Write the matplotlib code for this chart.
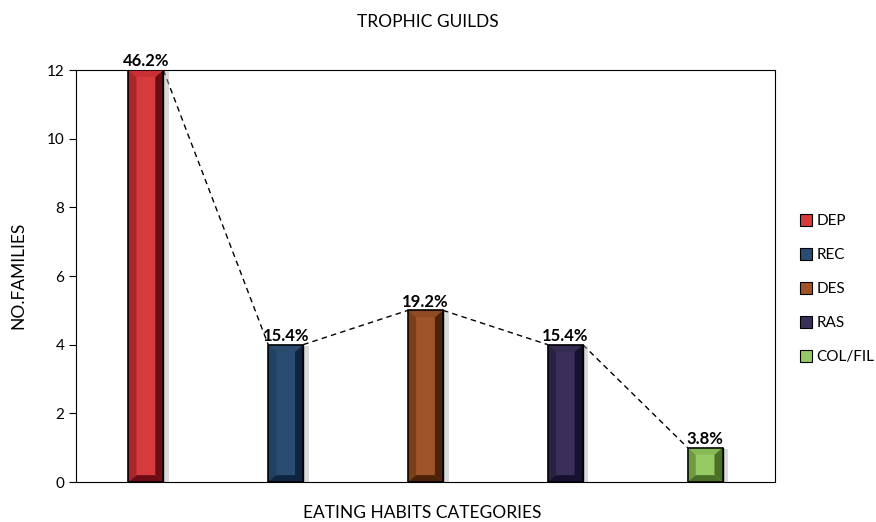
import matplotlib

matplotlib.use("Agg")

import matplotlib.pyplot as plt
import matplotlib.patheffects as pe
from matplotlib.patches import Patch, Polygon

plt.rcParams["font.family"] = ["Lato", "DejaVu Sans"]

categories = ["DEP", "REC", "DES", "RAS", "COL/FIL"]
families = [12, 4, 5, 4, 1]
percent_labels = ["46.2%", "15.4%", "19.2%", "15.4%", "3.8%"]

# (face, left bevel, dark side, top highlight)
palette = [
    ("#d63a3c", "#a8262c", "#6c0c14", "#c83036"),
    ("#2b4c72", "#22405f", "#0e2440", "#2a4a6e"),
    ("#a0542a", "#7a3e1a", "#4c220a", "#8e4a20"),
    ("#3a2f5a", "#2a2242", "#171030", "#342a52"),
    ("#96ca64", "#6e9a42", "#4a7028", "#86b856"),
]

fig = plt.figure(figsize=(8.76, 5.22), dpi=100)
ax = fig.add_axes([76 / 876, 40 / 522, 699 / 876, 412 / 522])

x = list(range(len(categories)))
bars = ax.bar(x, families, width=0.25, color=[c[0] for c in palette],
              edgecolor="black", linewidth=1.0, zorder=3)

bx = 0.058   # horizontal bevel size in data units
by = 0.2     # vertical bevel size in data units
for bar, cols in zip(bars, palette):
    bar.set_path_effects([
        pe.SimplePatchShadow(offset=(4, -1), shadow_rgbFace="#b0b0b0", alpha=0.45),
        pe.Normal(),
    ])
    x0 = bar.get_x()
    x1 = x0 + bar.get_width()
    h = bar.get_height()
    vy = min(by, h * 0.3)
    face, left, dark, top = cols
    shapes = [
        ([(x0, 0), (x0 + bx, vy), (x0 + bx, h - vy), (x0, h)], left),
        ([(x1, 0), (x1 - bx, vy), (x1 - bx, h - vy), (x1, h)], dark),
        ([(x0, h), (x0 + bx, h - vy), (x1 - bx, h - vy), (x1, h)], top),
        ([(x0, 0), (x0 + bx, vy), (x1 - bx, vy), (x1, 0)], dark),
    ]
    for pts, col in shapes:
        ax.add_patch(Polygon(pts, closed=True, facecolor=col, edgecolor="none", zorder=4))
    ax.add_patch(Polygon([(x0, 0), (x1, 0), (x1, h), (x0, h)], closed=True,
                         facecolor="none", edgecolor="black", linewidth=1.1, zorder=5))

# dashed connector from the top-right of one bar to the top-left of the next
for a, b in zip(bars[:-1], bars[1:]):
    ax.plot([a.get_x() + a.get_width(), b.get_x()], [a.get_height(), b.get_height()],
            color="black", linestyle=(0, (4, 3)), linewidth=1.0, zorder=2)

for bar, label in zip(bars, percent_labels):
    ax.annotate(label, (bar.get_x() + bar.get_width() / 2, bar.get_height()),
                xytext=(0, 0.5), textcoords="offset points", ha="center", va="bottom",
                fontsize=12, fontweight="bold", zorder=6)

ax.set_xlim(-0.5, 4.5)
ax.set_ylim(0, 12)
ax.set_yticks(range(0, 13, 2))
ax.set_xticks([])
ax.tick_params(axis="y", labelsize=11, length=5, width=0.8)
for spine in ax.spines.values():
    spine.set_linewidth(0.8)

fig.text(428 / 876, 1 - 22 / 522, "TROPHIC GUILDS", ha="center", va="center", fontsize=12.5)
fig.text(18 / 876, 1 - 275 / 522, "NO.FAMILIES", ha="center", va="center",
         rotation=90, fontsize=12.5)
fig.text(422 / 876, 1 - 513 / 522, "EATING HABITS CATEGORIES", ha="center", va="center",
         fontsize=12.5)

handles = [Patch(facecolor=c[0], edgecolor="black", linewidth=0.8) for c in palette]
fig.legend(handles, categories, loc="center left", bbox_to_anchor=(786 / 876, 1 - 289 / 522),
           frameon=False, fontsize=11, handlelength=0.8, handleheight=0.8,
           handletextpad=0.3, labelspacing=1.3)

fig.savefig("out.png", dpi=100)
